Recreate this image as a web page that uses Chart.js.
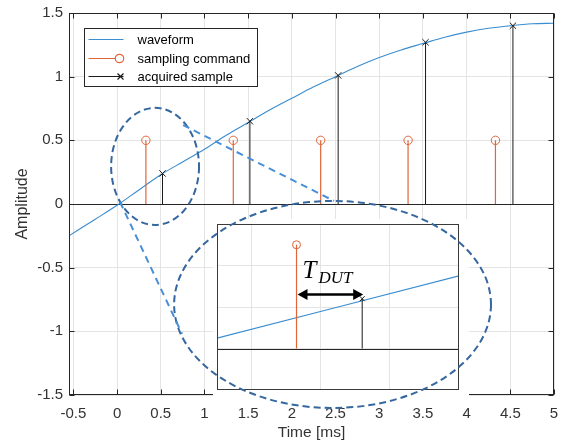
<!DOCTYPE html>
<html>
<head>
<meta charset="utf-8">
<script src="https://cdn.jsdelivr.net/npm/chart.js@4.4.1/dist/chart.umd.min.js"></script>
<style>
    html, body { margin: 0; padding: 0; background: #fff; }
    #wrap { position: relative; width: 566px; height: 442px; }
    #wrap canvas { position: absolute; left: 0; top: 0; }
</style>
</head>
<body>
<div id="wrap">
    <canvas id="mainChart" width="566" height="442"></canvas>
    <canvas id="zoomChart" width="566" height="442"></canvas>
</div>
<script>
// --- data ---
const waveTime = [-0.55, -0.25, 0, 0.25, 0.5, 0.75, 1, 1.25, 1.5, 1.75, 2, 2.25, 2.5, 2.75, 3, 3.25, 3.5, 3.75, 4, 4.25, 4.5, 4.75, 5];
const waveAmp  = [-0.25, -0.12, -0.01, 0.11, 0.23, 0.33, 0.43, 0.54, 0.64, 0.74, 0.83, 0.92, 1.00, 1.08, 1.15, 1.21, 1.26, 1.31, 1.35, 1.38, 1.40, 1.415, 1.42];

const cmdTime  = [0.33, 1.33, 2.33, 3.33, 4.33];
const cmdLevel = [0.5, 0.5, 0.5, 0.5, 0.5];

const sampleTime = [0.52, 1.52, 2.53, 3.53, 4.53];
const sampleAmp  = [0.24, 0.65, 1.01, 1.27, 1.40];

const xTickValues = [-0.5, 0, 0.5, 1, 1.5, 2, 2.5, 3, 3.5, 4, 4.5, 5];
const xTickLabels = ['-0.5', '0', '0.5', '1', '1.5', '2', '2.5', '3', '3.5', '4', '4.5', '5'];
const yTickValues = [-1.5, -1, -0.5, 0, 0.5, 1, 1.5];
const yTickLabels = ['-1.5', '-1', '-0.5', '0', '0.5', '1', '1.5'];

// zoomed inset (first command / sample pair)
const zoomWaveTime = [0.1, 0.45, 0.8];
const zoomWaveAmp  = [0.05, 0.20, 0.35];
const zoomXTicks = [0.2, 0.4, 0.6];
const zoomYTicks = [0, 0.2, 0.4];

// --- styles ---
const FONT = '"Liberation Sans", Arial, sans-serif';
const AXIS_COLOR = '#262626';
const GRID_COLOR = '#e4e4e4';
const BLUE = '#3a8dcf';
const ORANGE = '#e0663a';
const BLACK = '#1a1a1a';

// stem: baseline point, tip point, gap
function stems(xs, ys) {
    const pts = [];
    xs.forEach((x, i) => {
        pts.push({ x: x, y: 0 });
        pts.push({ x: x, y: ys[i], tip: true });
        pts.push({ x: x, y: null });
    });
    return pts;
}
const tipRadius = r => ctx => (ctx.raw && ctx.raw.tip ? r : 0);

// 안쪽 눈금 + 테두리 + 범례
const framePlugin = {
    id: 'frame',
    beforeDatasetsDraw(chart) {
        const { ctx, chartArea: a, scales } = chart;
        const y0 = Math.round(scales.y.getPixelForValue(0)) + 0.5;
        ctx.save();
        ctx.strokeStyle = AXIS_COLOR;
        ctx.lineWidth = 1;
        ctx.beginPath();
        ctx.moveTo(a.left, y0);
        ctx.lineTo(a.right, y0);
        ctx.stroke();
        ctx.restore();
    },
    afterDraw(chart) {
        const { ctx, chartArea: a, scales } = chart;
        const L = Math.round(a.left) + 0.5, R = Math.round(a.right) - 0.5;
        const T = Math.round(a.top) + 0.5, B = Math.round(a.bottom) - 0.5;
        ctx.save();
        ctx.strokeStyle = AXIS_COLOR;
        ctx.lineWidth = 1;
        ctx.strokeRect(L, T, R - L, B - T);
        ctx.beginPath();
        xTickValues.forEach(v => {
            const px = Math.round(scales.x.getPixelForValue(v)) + 0.5;
            ctx.moveTo(px, B); ctx.lineTo(px, B - 5);
            ctx.moveTo(px, T); ctx.lineTo(px, T + 5);
        });
        yTickValues.forEach(v => {
            const py = Math.round(scales.y.getPixelForValue(v)) + 0.5;
            ctx.moveTo(L, py); ctx.lineTo(L + 5, py);
            ctx.moveTo(R, py); ctx.lineTo(R - 5, py);
        });
        ctx.stroke();

        // legend
        const lx = Math.round(a.left) + 15.5, ly = Math.round(a.top) + 15.5;
        const lw = 173, lh = 58;
        ctx.fillStyle = '#fff';
        ctx.fillRect(lx, ly, lw, lh);
        ctx.strokeRect(lx, ly, lw, lh);
        const rows = [11, 30, 48];
        const items = chart.data.datasets.slice().reverse();
        ctx.font = '13px ' + FONT;
        ctx.textBaseline = 'middle';
        items.forEach((ds, i) => {
            const y = ly + rows[i];
            ctx.strokeStyle = ds.borderColor;
            ctx.lineWidth = 1.2;
            ctx.beginPath();
            ctx.moveTo(lx + 4, y);
            ctx.lineTo(lx + 39, y);
            ctx.stroke();
            if (ds.pointStyle === 'circle') {
                ctx.fillStyle = '#fff';
                ctx.beginPath();
                ctx.arc(lx + 35, y, 4.2, 0, Math.PI * 2);
                ctx.fill();
                ctx.stroke();
            } else if (ds.pointStyle === 'crossRot') {
                ctx.beginPath();
                ctx.moveTo(lx + 33, y - 3); ctx.lineTo(lx + 39, y + 3);
                ctx.moveTo(lx + 33, y + 3); ctx.lineTo(lx + 39, y - 3);
                ctx.stroke();
            }
            ctx.fillStyle = '#000';
            ctx.fillText(ds.label, lx + 53, y + 0.5);
        });
        ctx.restore();
    }
};

const mainChart = new Chart(document.getElementById('mainChart'), {
    type: 'scatter',
    data: {
        datasets: [{
            label: 'acquired sample',
            data: stems(sampleTime, sampleAmp),
            showLine: true,
            borderColor: BLACK,
            borderWidth: 1,
            pointStyle: 'crossRot',
            pointRadius: tipRadius(4.5),
            pointBorderColor: BLACK,
            pointBorderWidth: 1
        }, {
            label: 'sampling command',
            data: stems(cmdTime, cmdLevel),
            showLine: true,
            borderColor: ORANGE,
            borderWidth: 1.2,
            pointStyle: 'circle',
            pointRadius: tipRadius(4.2),
            pointBackgroundColor: 'rgba(255,255,255,0)',
            pointBorderColor: ORANGE,
            pointBorderWidth: 1
        }, {
            label: 'waveform',
            data: waveTime.map((t, i) => ({ x: t, y: waveAmp[i] })),
            showLine: true,
            borderColor: BLUE,
            borderWidth: 1.1,
            pointRadius: 0,
            cubicInterpolationMode: 'monotone'
        }]
    },
    options: {
        responsive: false,
        animation: false,
        layout: { padding: { top: 13, right: 12, left: 0, bottom: 0 } },
        plugins: { legend: { display: false }, tooltip: { enabled: false } },
        scales: {
            x: {
                type: 'linear',
                min: -0.55,
                max: 5,
                afterBuildTicks: s => { s.ticks = xTickValues.map(v => ({ value: v })); },
                afterFit: s => { s.height = 47; s.paddingLeft = 0; s.paddingRight = 0; },
                grid: { color: GRID_COLOR, drawTicks: false },
                border: { display: false },
                ticks: {
                    padding: 10,
                    color: '#333',
                    font: { family: FONT, size: 15 },
                    callback: (v, i) => xTickLabels[i]
                },
                title: { display: true, text: 'Time [ms]', color: '#333', font: { family: FONT, size: 15.5 }, padding: 0 }
            },
            y: {
                min: -1.5,
                max: 1.5,
                afterBuildTicks: s => { s.ticks = yTickValues.map(v => ({ value: v })); },
                afterFit: s => { s.width = 69; s.paddingTop = 0; s.paddingBottom = 0; },
                grid: { color: GRID_COLOR, drawTicks: false },
                border: { display: false },
                ticks: {
                    padding: 6,
                    color: '#333',
                    font: { family: FONT, size: 15 },
                    callback: (v, i) => yTickLabels[i]
                },
                title: { display: true, text: 'Amplitude', color: '#333', font: { family: FONT, size: 16 }, padding: { top: 13, bottom: 0 } }
            }
        }
    },
    plugins: [framePlugin]
});

// --- 확대 영역 주석 (main 좌표계) ---
const smallEllipse = { cx: 0.435, cy: 0.295, rx: 0.503, ry: 0.46 };
const bigEllipse = { cx: 2.466, cy: -0.789, rx: 1.813, ry: 0.813 };
const guideLines = [
    [[0.755, 0.62], [2.483, 0.024]],
    [[0.034, 0.016], [0.744, -1.02]]
];

function drawEllipse(ctx, e) {
    const sx = mainChart.scales.x, sy = mainChart.scales.y;
    const px = sx.getPixelForValue(e.cx), py = sy.getPixelForValue(e.cy);
    const rx = Math.abs(sx.getPixelForValue(e.cx + e.rx) - px);
    const ry = Math.abs(sy.getPixelForValue(e.cy + e.ry) - py);
    ctx.beginPath();
    ctx.ellipse(px, py, rx, ry, 0, 0, Math.PI * 2);
    ctx.stroke();
}

function drawArrowHead(ctx, x, y, dir) {
    ctx.beginPath();
    ctx.moveTo(x, y);
    ctx.lineTo(x - dir * 10, y - 5.5);
    ctx.lineTo(x - dir * 10, y + 5.5);
    ctx.closePath();
    ctx.fill();
}

const insetPlugin = {
    id: 'inset',
    beforeDraw(chart) {
        const { ctx, chartArea: a } = chart;
        ctx.save();
        ctx.fillStyle = '#fff';
        ctx.fillRect(a.left - 4, a.top - 5, a.right - a.left + 14, a.bottom - a.top + 12);
        ctx.restore();
    },
    beforeDatasetsDraw(chart) {
        const { ctx, chartArea: a, scales } = chart;
        const y0 = Math.round(scales.y.getPixelForValue(0)) + 0.5;
        ctx.save();
        ctx.strokeStyle = AXIS_COLOR;
        ctx.lineWidth = 1;
        ctx.beginPath();
        ctx.moveTo(a.left, y0);
        ctx.lineTo(a.right, y0);
        ctx.stroke();
        ctx.restore();
    },
    afterDraw(chart) {
        const { ctx, chartArea: a, scales } = chart;
        ctx.save();
        ctx.strokeStyle = '#3a3a3a';
        ctx.lineWidth = 1;
        ctx.strokeRect(Math.round(a.left) + 0.5, Math.round(a.top) + 0.5,
            Math.round(a.right - a.left) - 1, Math.round(a.bottom - a.top) - 1);

        // T_DUT 화살표
        const x1 = scales.x.getPixelForValue(cmdTime[0]) + 1;
        const x2 = scales.x.getPixelForValue(sampleTime[0]) + 1;
        const ya = scales.y.getPixelForValue(0.26);
        ctx.strokeStyle = '#000';
        ctx.fillStyle = '#000';
        ctx.lineWidth = 2.5;
        ctx.beginPath();
        ctx.moveTo(x1 + 8, ya);
        ctx.lineTo(x2 - 8, ya);
        ctx.stroke();
        drawArrowHead(ctx, x1, ya, -1);
        drawArrowHead(ctx, x2, ya, 1);

        const tb = scales.y.getPixelForValue(0.34);
        ctx.textBaseline = 'alphabetic';
        ctx.font = 'italic 25px "Liberation Serif", serif';
        ctx.fillText('T', x1 + 5, tb);
        const tw = ctx.measureText('T').width;
        ctx.font = 'italic 17px "Liberation Serif", serif';
        ctx.fillText('DUT', x1 + 5 + tw + 2, tb + 5);

        // 점선 타원 + 연결선
        ctx.setLineDash([7, 4]);
        ctx.lineWidth = 2;
        ctx.strokeStyle = '#36679f';
        drawEllipse(ctx, smallEllipse);
        drawEllipse(ctx, bigEllipse);
        ctx.strokeStyle = '#4a8fd6';
        ctx.setLineDash([7, 5]);
        const sx = mainChart.scales.x, sy = mainChart.scales.y;
        guideLines.forEach(([p, q]) => {
            ctx.beginPath();
            ctx.moveTo(sx.getPixelForValue(p[0]), sy.getPixelForValue(p[1]));
            ctx.lineTo(sx.getPixelForValue(q[0]), sy.getPixelForValue(q[1]));
            ctx.stroke();
        });
        ctx.restore();
    }
};

new Chart(document.getElementById('zoomChart'), {
    type: 'scatter',
    data: {
        datasets: [{
            label: 'acquired sample',
            data: stems(sampleTime.slice(0, 1), sampleAmp.slice(0, 1)),
            showLine: true,
            borderColor: BLACK,
            borderWidth: 1,
            pointStyle: 'crossRot',
            pointRadius: tipRadius(3.5),
            pointBorderColor: BLACK,
            pointBorderWidth: 1
        }, {
            label: 'sampling command',
            data: stems(cmdTime.slice(0, 1), cmdLevel.slice(0, 1)),
            showLine: true,
            borderColor: ORANGE,
            borderWidth: 1.2,
            pointStyle: 'circle',
            pointRadius: tipRadius(4),
            pointBackgroundColor: 'rgba(255,255,255,0)',
            pointBorderColor: ORANGE,
            pointBorderWidth: 1
        }, {
            label: 'waveform',
            data: zoomWaveTime.map((t, i) => ({ x: t, y: zoomWaveAmp[i] })),
            showLine: true,
            borderColor: BLUE,
            borderWidth: 1.1,
            pointRadius: 0
        }]
    },
    options: {
        responsive: false,
        animation: false,
        layout: { padding: { left: 217, top: 224, right: 107, bottom: 52 } },
        plugins: { legend: { display: false }, tooltip: { enabled: false } },
        scales: {
            x: {
                type: 'linear',
                min: 0.1,
                max: 0.8,
                afterBuildTicks: s => { s.ticks = zoomXTicks.map(v => ({ value: v })); },
                afterFit: s => { s.height = 0; },
                grid: { color: GRID_COLOR, drawTicks: false },
                border: { display: false },
                ticks: { display: false }
            },
            y: {
                min: -0.2,
                max: 0.6,
                afterBuildTicks: s => { s.ticks = zoomYTicks.map(v => ({ value: v })); },
                afterFit: s => { s.width = 0; },
                grid: { color: GRID_COLOR, drawTicks: false },
                border: { display: false },
                ticks: { display: false }
            }
        }
    },
    plugins: [insetPlugin]
});
</script>
</body>
</html>
